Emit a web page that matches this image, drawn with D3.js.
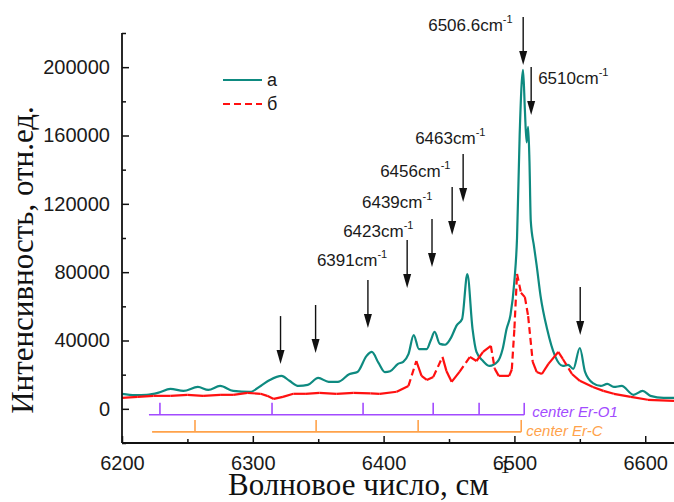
<!DOCTYPE html>
<html><head><meta charset="utf-8">
<script src="https://cdn.jsdelivr.net/npm/d3@7"></script>
<style>body{margin:0;background:#fff;} svg{display:block;}</style>
</head><body><svg id="c" width="674" height="502"></svg>
<script>
// ---------- data ----------
const waveA = [6200,6210,6219,6228,6237,6247,6258,6266,6275,6285,6298,6306,6313,6322,6328,6335,6342,6350,6358,6365,6374,6380,6387,6391,6396,6401,6405,6411,6415,6419,6423,6427,6433,6436,6439,6443,6447,6451,6456,6460,6464,6468,6471,6476,6481,6487,6491,6494,6497,6500,6502,6504,6505.5,6506.6,6508,6509.3,6510.5,6511.5,6512.5,6515,6517,6520,6525,6531,6537,6541,6545,6550,6554,6560,6566,6571,6576,6582,6591,6598,6604,6614,6622];
const intensityA = [8800,8000,8200,9500,11700,10500,12800,11100,13400,10500,9900,13400,16900,19300,16400,13400,14000,18100,15800,15800,20400,21600,31000,33300,27000,21500,22000,26300,27500,32000,43200,35000,35000,40000,45000,38000,37500,40900,49000,52600,78800,46700,33300,28000,25100,27500,35000,46700,55000,75000,100000,160000,190000,198500,175000,156000,165000,145000,110000,95000,84000,66000,46700,31000,25100,25700,23400,35600,21600,15000,13400,14600,12800,13400,8200,10500,7600,6400,6400];
const waveB = [6200,6212,6224,6237,6250,6262,6275,6285,6296,6306,6311,6316,6323,6331,6340,6351,6364,6377,6390,6397,6410,6419,6425,6429,6433,6438,6445,6448,6452,6458,6466,6471,6476,6482,6485,6488,6496,6498,6500,6502,6505,6508,6510.5,6514,6517,6521,6526,6533.5,6537,6544,6550,6560,6568,6576,6589,6602,6622];
const intensityB = [6400,7000,7600,7600,8200,7600,8200,8200,9300,8800,7600,5800,7000,8800,8800,9300,8800,9300,9000,8800,10000,13400,28000,19300,16900,18700,30400,22200,15800,21600,30400,28000,33300,36800,23400,19300,19300,23000,47000,79000,68000,65400,54300,27500,21600,20400,26300,33300,29200,20400,16400,12800,10500,8800,7000,5300,4700];
const seriesNames = ["а", "б"];
const xTicks = [6200, 6300, 6400, 6500, 6600];
const xMinor = [6250, 6350, 6450, 6550];
const yTicks = [0, 40000, 80000, 120000, 160000, 200000];
const yMinor = [-20000, 20000, 60000, 100000, 140000, 180000, 220000];
// peak annotations: arrow wavenumber, arrow tip intensity, label
const arrowWave = [6321.2, 6348, 6388, 6418, 6437, 6452.4, 6460.8, 6506.7, 6512.8, 6550.3];
const arrowTip  = [26200, 32700, 47300, 70700, 83000, 101800, 121100, 201300, 172000, 43200];
const arrowLabel = ["", "", "6391", "6423", "6439", "6456", "6463", "6506.6", "6510", ""];
// center level lines
const centerNames = ["center Er-O1", "center Er-C"];
const centerStart = [6220.6, 6223];
const centerLines = [[6229, 6314.7, 6384.3, 6437.9, 6473, 6507.5], [6255.8, 6348.4, 6426.4, 6505.2]];

// ---------- layout ----------
const svg = d3.select('#c');
const x = d3.scaleLinear().domain([6200, 6622]).range([122, 674]);
const y = d3.scaleLinear().domain([-20000, 220000]).range([443, 33]);
const SANS = "'Liberation Sans', Arial, sans-serif";
const SERIF = "'Liberation Serif', 'Times New Roman', serif";
const teal = "#0e8a80", red = "#ff1010", purple = "#a24bff", orange = "#ffa24a";

svg.append('defs').append('clipPath').attr('id','clip')
  .append('rect').attr('x',122).attr('y',33).attr('width',552).attr('height',410);

// center level lines
const centerColors = [purple, orange];
const centerBase = [-3500, -13500];
const centerTop = [3500, -6500];
centerLines.forEach((ticks, i) => {
  const g = svg.append('g').attr('stroke', centerColors[i]).attr('stroke-width', 1.6);
  g.append('line').attr('x1', x(centerStart[i])).attr('x2', x(ticks[ticks.length-1]))
    .attr('y1', y(centerBase[i])).attr('y2', y(centerBase[i]));
  g.selectAll('line.t').data(ticks).enter().append('line').attr('class','t')
    .attr('x1', d => x(d)).attr('x2', d => x(d))
    .attr('y1', y(centerBase[i])).attr('y2', y(centerTop[i]));
  svg.append('text').attr('x', x(ticks[ticks.length-1]) + (i === 0 ? 8 : 5))
    .attr('y', y(centerBase[i]) + (i === 0 ? 2 : 4))
    .attr('fill', centerColors[i]).attr('font-family', SANS).attr('font-style','italic')
    .attr('font-size', 15).text(centerNames[i]);
});

// series
const plot = svg.append('g').attr('clip-path','url(#clip)');
const dataA = waveA.map((w, i) => [w, intensityA[i]]);
const dataB = waveB.map((w, i) => [w, intensityB[i]]);
const line = d3.line().x(d => x(d[0])).y(d => y(d[1])).curve(d3.curveMonotoneX);
plot.append('path').datum(dataA).attr('d', line).attr('fill','none')
  .attr('stroke', teal).attr('stroke-width', 2.2).attr('stroke-linejoin','round');
// red dashed series: dash pattern restarts each segment (solid on short segments)
const segs = d3.pairs(dataB);
plot.selectAll('line.b').data(segs).enter().append('line').attr('class','b')
  .attr('x1', d => x(d[0][0])).attr('y1', d => y(d[0][1]))
  .attr('x2', d => x(d[1][0])).attr('y2', d => y(d[1][1]))
  .attr('stroke', red).attr('stroke-width', 2.2).attr('stroke-linecap','butt')
  .attr('stroke-dasharray', d => Math.abs(y(d[0][1]) - y(d[1][1])) > 15 ? '7,4' : null);

// axes
function styleAxis(g) {
  g.select('.domain').remove();
  g.selectAll('line').attr('stroke', '#111').attr('stroke-width', 1.5);
  g.selectAll('text').attr('font-family', SANS).attr('font-size', 20).attr('fill', '#1a1a1a');
}
svg.append('g').attr('transform','translate(0,443)')
  .call(d3.axisBottom(x).tickValues(xTicks).tickSize(-7).tickPadding(13).tickFormat(d3.format('d')))
  .call(styleAxis);
svg.append('g').attr('transform','translate(0,443)')
  .call(d3.axisBottom(x).tickValues(xMinor).tickSize(-4).tickFormat(''))
  .call(styleAxis);
svg.append('g').attr('transform','translate(122,0)')
  .call(d3.axisLeft(y).tickValues(yTicks).tickSize(-7).tickPadding(12).tickFormat(d3.format('d')))
  .call(styleAxis);
svg.append('g').attr('transform','translate(122,0)')
  .call(d3.axisLeft(y).tickValues(yMinor).tickSize(-4).tickFormat(''))
  .call(styleAxis);
svg.append('line').attr('x1',122).attr('x2',674).attr('y1',443).attr('y2',443)
  .attr('stroke','#111').attr('stroke-width',1.8);
svg.append('line').attr('x1',122).attr('x2',122).attr('y1',33).attr('y2',443)
  .attr('stroke','#111').attr('stroke-width',1.8);

// axis titles
svg.append('text').attr('transform','translate(33,260) rotate(-90)').attr('text-anchor','middle')
  .attr('font-family', SERIF).attr('font-size', 31).attr('fill','#111')
  .text('Интенсивность, отн.ед.');
const xt = svg.append('text').attr('x', 228).attr('y', 495)
  .attr('font-family', SERIF).attr('font-size', 31).attr('fill','#111');
xt.append('tspan').text('Волновое число, см');
xt.append('tspan').attr('dx', 5).attr('dy', -22).attr('font-size', 19).text('-1');

// legend
const legY = [80, 104];
const legColors = [teal, red];
seriesNames.forEach((n, i) => {
  svg.append('line').attr('x1', 223).attr('x2', 262).attr('y1', legY[i]).attr('y2', legY[i])
    .attr('stroke', legColors[i]).attr('stroke-width', 2.2)
    .attr('stroke-dasharray', i === 1 ? '7,4' : null);
  svg.append('text').attr('x', 267).attr('y', legY[i] + 6).attr('font-family', SANS)
    .attr('font-size', 18).attr('fill','#1a1a1a').text(n);
});

// arrows & labels
const arrowLen = 48;
const labelOffset = {"6391": [-51,-14], "6423": [-64,-3], "6439": [-70,-11], "6456": [-72,-10],
  "6463": [-48,-10], "6506.6": [-95,14], "6510": [7,17]};
arrowWave.forEach((w, i) => {
  const ax = x(w), tip = y(arrowTip[i]), top = tip - arrowLen;
  svg.append('line').attr('x1', ax).attr('x2', ax).attr('y1', top).attr('y2', tip - 10)
    .attr('stroke', '#111').attr('stroke-width', 1.4);
  svg.append('path').attr('d', `M${ax-4},${tip-14} L${ax+4},${tip-14} L${ax},${tip} Z`).attr('fill', '#111');
  const lab = arrowLabel[i];
  if (lab) {
    const o = labelOffset[lab];
    const t = svg.append('text').attr('x', ax + o[0]).attr('y', top + o[1])
      .attr('font-family', SANS).attr('font-size', 17).attr('fill', '#1a1a1a');
    t.append('tspan').text(lab + 'cm');
    t.append('tspan').attr('dy', -8).attr('font-size', 11).text('-1');
  }
});
</script></body></html>
